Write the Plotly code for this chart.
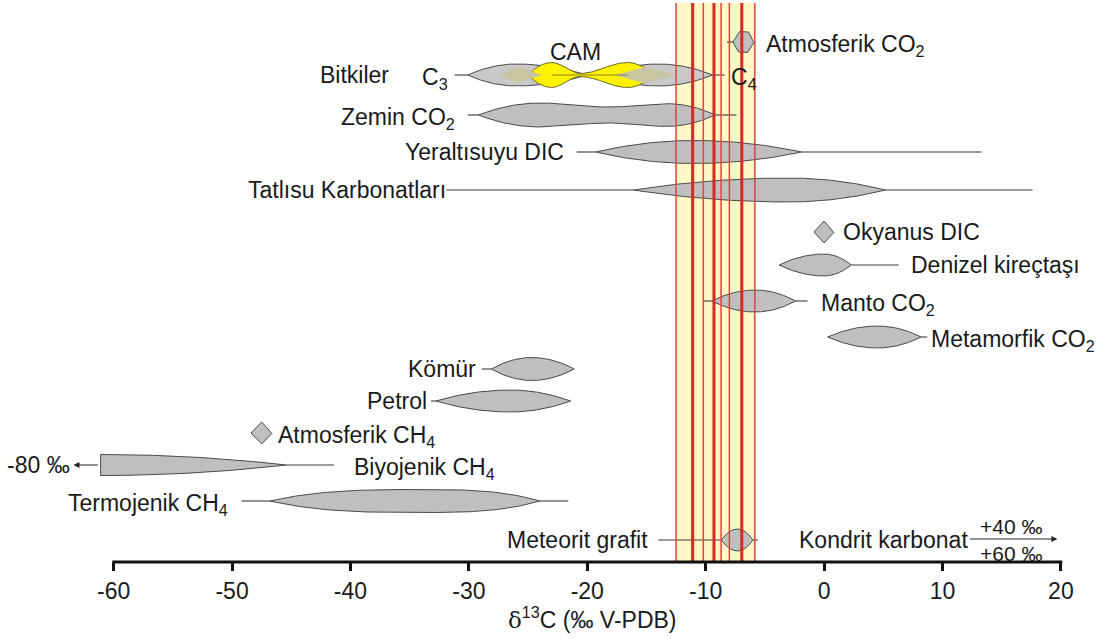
import numpy as np
import plotly.graph_objects as go

FONT = "Liberation Sans, Arial, sans-serif"
TXT = "#1a1a1a"
FS = 23

# ---------------- data (δ13C values, ‰ V-PDB) ----------------
x_ticks = [-60, -50, -40, -30, -20, -10, 0, 10, 20]
x_ticktext = ["-60", "-50", "-40", "-30", "-20", "-10", "0", "10", "20"]
axis_lo, axis_hi = -60, 20

band_lo, band_hi = -12.5, -5.85
red_thick = [-11.1, -9.3, -6.95]
red_thin = [-12.5, -10.2, -8.7, -8.0, -5.85]

# row order (top to bottom)
rows = ["atm_co2", "bitki", "zemin", "yeralti", "tatlisu", "okyanus", "denizel",
        "manto", "metamorfik", "komur", "petrol", "atm_ch4", "biyojenik",
        "termojenik", "meteorit"]
row_pos = [42, 75, 115, 152, 190, 232, 265, 301, 337, 369, 401, 433, 465, 501, 540]

# profile knots: (δ13C, relative width)
prof_atm_co2 = [(-7.7, 0), (-7.2, 1), (-6.4, 1), (-5.9, 0)]
prof_c3 = [(-30.1, 0), (-26.0, 1), (-20.0, 0)]
prof_c4 = [(-19.0, 0), (-14.0, 1), (-9.4, 0)]
prof_cam = [(-25.0, 0), (-23.0, 1), (-20.6, 0.12), (-16.6, 1), (-14.4, 0)]
prof_cam_c3 = [(-27.4, 0), (-25.8, 1), (-23.9, 0)]
prof_cam_c4 = [(-17.6, 0), (-15.2, 1), (-12.6, 0)]
prof_zemin = [(-29.2, 0), (-24.0, 1), (-18.2, 0.66), (-13.3, 0.95), (-9.2, 0)]
prof_yeralti = [(-19.3, 0), (-11.0, 1), (-1.9, 0)]
prof_tatlisu = [(-16.1, 0), (-3.0, 1), (5.2, 0)]
prof_okyanus = [(-0.85, 0), (0.0, 1), (0.85, 0)]
prof_denizel = [(-3.8, 0), (0.0, 1), (2.3, 0)]
prof_manto = [(-9.5, 0), (-5.8, 1), (-2.4, 0)]
prof_metamorfik = [(0.3, 0), (4.5, 1), (8.2, 0)]
prof_komur = [(-28.1, 0), (-24.7, 1), (-21.1, 0)]
prof_petrol = [(-32.8, 0), (-26.5, 1), (-21.4, 0)]
prof_atm_ch4 = [(-48.4, 0), (-47.5, 1), (-46.6, 0)]
prof_biyojenik = [(-61.1, 1), (-45.4, 0)]
prof_termojenik = [(-46.8, 0), (-34.0, 1), (-24.0, 0)]
prof_meteorit = [(-8.7, 0), (-7.3, 1), (-6.0, 0)]

# whisker ranges
whisk = {
    "atm_co2": [(-8.2, -7.7)],
    "c3": [(-31.2, -30.1)],
    "c4": [(-9.4, -8.4)],
    "zemin": [(-30.1, -29.2), (-9.2, -7.4)],
    "yeralti": [(-20.9, -19.3), (-1.9, 13.3)],
    "tatlisu": [(-31.9, -16.1), (5.2, 17.6)],
    "denizel": [(2.3, 6.3)],
    "manto": [(-10.2, -9.5), (-2.4, -1.4)],
    "metamorfik": [(8.2, 8.7)],
    "komur": [(-28.9, -28.1)],
    "petrol": [(-33.2, -32.8)],
    "biyojenik": [(-45.4, -41.4)],
    "termojenik": [(-49.2, -46.8), (-24.0, -21.6)],
    "meteorit": [(-14.0, -8.7), (-6.0, -5.6)],
}
biyojenik_limit = -80       # off-scale arrow text
kondrit_range = (40, 60)    # off-scale arrow text

# ---------------- helpers ----------------
Y = dict(zip(rows, row_pos))


def profile(knots, linear=False, p=2, n=50):
    xs, hs = [], []
    for (xa, ha), (xb, hb) in zip(knots[:-1], knots[1:]):
        u = np.linspace(0, 1, n)
        if linear:
            h = ha + (hb - ha) * u
        elif ha == 0 and hb > 0:
            h = hb * (1 - (1 - u) ** p)
        elif hb == 0 and ha > 0:
            h = ha * (1 - u ** p)
        else:
            h = ha + (hb - ha) * (1 - np.cos(np.pi * u)) / 2
        xs.extend(xa + (xb - xa) * u)
        hs.extend(h)
    return np.array(xs), np.array(hs)


fig = go.Figure()


def lens(knots, yc, H, fill="#bfbfbf", line="#4a4a4a", lw=1.0, linear=False, p=2, opacity=1.0):
    xs, hs = profile(knots, linear, p)
    px = np.concatenate([xs, xs[::-1], xs[:1]])
    py = np.concatenate([yc - H * hs, (yc + H * hs)[::-1], [yc - H * hs[0]]])
    fig.add_trace(go.Scatter(x=px, y=py, mode="lines", fill="toself",
                             fillcolor=fill, line=dict(color=line, width=lw),
                             opacity=opacity, hoverinfo="skip", showlegend=False))


def whiskers(key, yc):
    for a, b in whisk.get(key, []):
        fig.add_trace(go.Scatter(x=[a, b], y=[yc, yc], mode="lines",
                                 line=dict(color="#3a3a3a", width=1.1),
                                 hoverinfo="skip", showlegend=False))


for key, r in [("atm_co2", "atm_co2"), ("c3", "bitki"), ("c4", "bitki"),
               ("zemin", "zemin"), ("yeralti", "yeralti"), ("tatlisu", "tatlisu"),
               ("denizel", "denizel"), ("manto", "manto"), ("metamorfik", "metamorfik"),
               ("komur", "komur"), ("petrol", "petrol"), ("biyojenik", "biyojenik"),
               ("termojenik", "termojenik"), ("meteorit", "meteorit")]:
    whiskers(key, Y[r])

lens(prof_atm_co2, Y["atm_co2"], 10.5, linear=True)
lens(prof_c3, Y["bitki"], 11, fill="#c9c9c9")
lens(prof_c4, Y["bitki"], 11, fill="#c9c9c9")
lens(prof_cam, Y["bitki"], 12.5, fill="#fff200", line="#6b6a2a")
lens(prof_cam_c3, Y["bitki"], 8, fill="#c8c6a0", line="#c8c6a0", lw=0.5, linear=True)
lens(prof_cam_c4, Y["bitki"], 8, fill="#c8c6a0", line="#c8c6a0", lw=0.5, linear=True)
fig.add_trace(go.Scatter(x=[prof_cam[1][0], prof_cam[3][0]], y=[Y["bitki"]] * 2, mode="lines",
                         line=dict(color="#6b6a2a", width=0.8), hoverinfo="skip", showlegend=False))
lens(prof_zemin, Y["zemin"], 12)
lens(prof_yeralti, Y["yeralti"], 11.5)
lens(prof_tatlisu, Y["tatlisu"], 12)
lens(prof_okyanus, Y["okyanus"], 11, linear=True)
lens(prof_denizel, Y["denizel"], 11)
lens(prof_manto, Y["manto"], 11)
lens(prof_metamorfik, Y["metamorfik"], 11)
lens(prof_komur, Y["komur"], 11.5)
lens(prof_petrol, Y["petrol"], 11)
lens(prof_atm_ch4, Y["atm_ch4"], 11, linear=True)
lens(prof_biyojenik, Y["biyojenik"], 10.5)
lens(prof_termojenik, Y["termojenik"], 11.5, p=3)
lens(prof_meteorit, Y["meteorit"], 11)

# ---------------- shapes ----------------
shapes = [dict(type="rect", xref="x", yref="y", x0=band_lo, x1=band_hi, y0=3, y1=562,
               fillcolor="#fff7c6", line=dict(width=0), layer="below")]
for v in red_thin:
    shapes.append(dict(type="line", xref="x", yref="y", x0=v, x1=v, y0=3, y1=562,
                       line=dict(color="#e0443a", width=1.5), layer="above"))
for v in red_thick:
    shapes.append(dict(type="line", xref="x", yref="y", x0=v, x1=v, y0=3, y1=562,
                       line=dict(color="#d42a22", width=3), layer="above"))
shapes.append(dict(type="line", xref="x", yref="paper", x0=axis_lo - 0.12, x1=axis_hi + 0.12,
                   y0=0, y1=0, line=dict(color="#111", width=3), layer="above"))

# ---------------- labels ----------------
labels = [
    ("Atmosferik CO<sub>2</sub>", -5.1, "atm_co2", "left"),
    ("Bitkiler", -36.6, "bitki", "right"),
    ("C<sub>3</sub>", -31.6, "bitki", "right"),
    ("C<sub>4</sub>", -8.0, "bitki", "left"),
    ("Zemin CO<sub>2</sub>", -31.0, "zemin", "right"),
    ("Yeraltısuyu DIC", -21.8, "yeralti", "right"),
    ("Tatlısu Karbonatları", -31.8, "tatlisu", "right"),
    ("Okyanus DIC", 1.4, "okyanus", "left"),
    ("Denizel kireçtaşı", 7.2, "denizel", "left"),
    ("Manto CO<sub>2</sub>", -0.4, "manto", "left"),
    ("Metamorfik CO<sub>2</sub>", 8.9, "metamorfik", "left"),
    ("Kömür", -29.2, "komur", "right"),
    ("Petrol", -33.4, "petrol", "right"),
    ("Atmosferik CH<sub>4</sub>", -46.3, "atm_ch4", "left"),
    ("Biyojenik CH<sub>4</sub>", -39.9, "biyojenik", "left"),
    ("Termojenik CH<sub>4</sub>", -50.2, "termojenik", "right"),
    ("Meteorit grafit", -14.7, "meteorit", "right"),
    ("Kondrit karbonat", -2.3, "meteorit", "left"),
]
ann = []
for text, x, r, anchor in labels:
    dy = 3 if "<sub>" in text else 0
    ann.append(dict(text=text, x=x, y=Y[r] + dy, xref="x", yref="y", xanchor=anchor,
                    yanchor="middle", showarrow=False, font=dict(size=FS, color=TXT, family=FONT)))
ann.append(dict(text="CAM", x=-21.0, y=52, xref="x", yref="y", xanchor="center", yanchor="middle",
                showarrow=False, font=dict(size=FS, color=TXT, family=FONT)))
ann.append(dict(text=f"{biyojenik_limit} ‰", x=-63.5, y=Y["biyojenik"], xref="x", yref="y",
                xanchor="right", yanchor="middle", showarrow=False,
                font=dict(size=FS, color=TXT, family=FONT)))
ann.append(dict(text="", x=-63.4, y=Y["biyojenik"], ax=-61.2, ay=Y["biyojenik"], axref="x", ayref="y",
                xref="x", yref="y", showarrow=True, arrowhead=2, arrowsize=1, arrowwidth=1.2,
                arrowcolor="#222"))
ann.append(dict(text="", x=19.7, y=539, ax=12.2, ay=539, axref="x", ayref="y",
                xref="x", yref="y", showarrow=True, arrowhead=2, arrowsize=1, arrowwidth=1.2,
                arrowcolor="#222"))
ann.append(dict(text=f"+{kondrit_range[0]} ‰", x=15.8, y=526, xref="x", yref="y", xanchor="center",
                yanchor="middle", showarrow=False, font=dict(size=21, color=TXT, family=FONT)))
ann.append(dict(text=f"+{kondrit_range[1]} ‰", x=15.8, y=553, xref="x", yref="y", xanchor="center",
                yanchor="middle", showarrow=False, font=dict(size=21, color=TXT, family=FONT)))
ann.append(dict(text="<span style='font-family:DejaVu Serif'>δ</span><sup>13</sup>C (‰ V-PDB)",
                x=-19.6, y=-0.1, xref="x", yref="paper", xanchor="center", yanchor="middle",
                showarrow=False, font=dict(size=FS, color=TXT, family=FONT)))

fig.update_layout(
    width=1113, height=639,
    margin=dict(l=0, r=0, t=0, b=77),
    paper_bgcolor="white", plot_bgcolor="white",
    shapes=shapes, annotations=ann, showlegend=False,
    xaxis=dict(range=[-69.6, 24.4], tickvals=x_ticks, ticktext=x_ticktext, ticks="outside",
               ticklen=8, tickwidth=3, tickcolor="#111", showline=False, showgrid=False,
               zeroline=False, tickfont=dict(size=FS, color=TXT, family=FONT)),
    yaxis=dict(range=[562, 0], visible=False, showgrid=False, zeroline=False),
)

fig.write_html("out.html")
